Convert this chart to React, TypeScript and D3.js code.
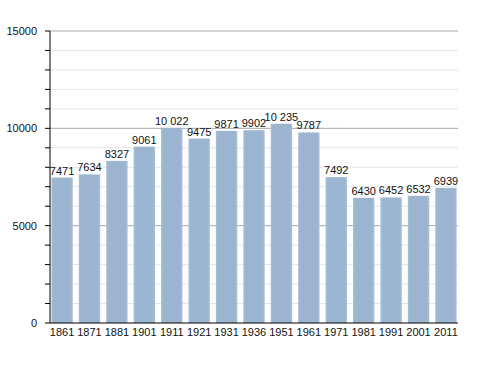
import React from "react";
import * as d3 from "d3";

const years = ["1861","1871","1881","1901","1911","1921","1931","1936","1951","1961","1971","1981","1991","2001","2011"];
const population = [7471,7634,8327,9061,10022,9475,9871,9902,10235,9787,7492,6430,6452,6532,6939];
const yTicks = [0,5000,10000,15000];

export default function App() {
  const W = 488, H = 373;
  const left = 50, right = 458, top = 31, bottom = 323;
  const x = d3.scaleBand<string>().domain(years).range([left, right]).paddingInner(0.22).paddingOuter(0.05);
  const y = d3.scaleLinear().domain([0, 15000]).range([bottom, top]);
  const minor = d3.range(1000, 15001, 1000);
  const fmt = (v: number) => v >= 10000 ? `${Math.floor(v/1000)} ${String(v%1000).padStart(3,"0")}` : String(v);
  const font = "Liberation Sans, Arial, sans-serif";
  return (
    <svg width={W} height={H} style={{position:"absolute", left:0, top:0}}>
      <defs>
        <linearGradient id="bar" x1="0" x2="1" y1="0" y2="0">
          <stop offset="0" stopColor="#a9bfd8" />
          <stop offset="0.12" stopColor="#9bb4d0" />
          <stop offset="0.88" stopColor="#9bb4d0" />
          <stop offset="1" stopColor="#a9bfd8" />
        </linearGradient>
      </defs>
      <rect width={W} height={H} fill="#fff" />
      {minor.map(v => (
        <line key={"g"+v} x1={left} x2={right} y1={y(v)} y2={y(v)} stroke={v % 5000 === 0 ? "#a8a8a8" : "#e6e6e6"} strokeWidth={1} />
      ))}
      {population.map((v, i) => (
        <rect key={"b"+i} x={x(years[i])} y={y(v)} width={x.bandwidth()} height={bottom - y(v)} fill="url(#bar)" />
      ))}
      {population.map((v, i) => (
        <text key={"l"+i} x={(x(years[i]) as number) + x.bandwidth()/2} y={y(v) - 3} textAnchor="middle" fontFamily={font} fontSize={11} fill="#111">{fmt(v)}</text>
      ))}
      <line x1={left} x2={left} y1={top} y2={bottom} stroke="#000" />
      <line x1={left} x2={right} y1={bottom} y2={bottom} stroke="#000" />
      {[0, ...minor].map(v => (
        <line key={"t"+v} x1={left - 5} x2={left} y1={y(v)} y2={y(v)} stroke="#000" />
      ))}
      {yTicks.map(v => (
        <text key={"y"+v} x={37} y={y(v) + 4} textAnchor="end" fontFamily={font} fontSize={11} fill="#111">{v}</text>
      ))}
      {years.map(yr => (
        <text key={"x"+yr} x={(x(yr) as number) + x.bandwidth()/2} y={bottom + 13} textAnchor="middle" fontFamily={font} fontSize={11} fill="#111">{yr}</text>
      ))}
    </svg>
  );
}
